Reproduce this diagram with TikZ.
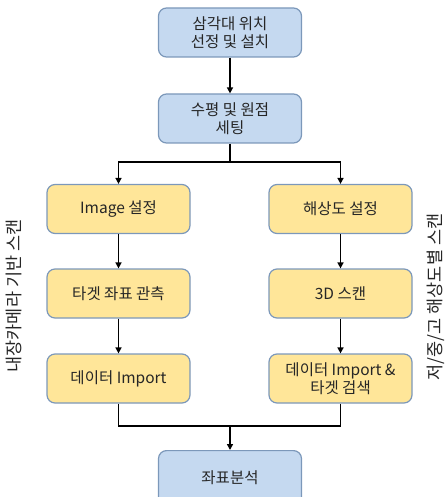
\documentclass[tikz,border=0pt]{standalone}
\usepackage{fontspec}
\setmainfont{Noto Sans CJK KR}
\usetikzlibrary{arrows.meta}
\definecolor{bluefill}{HTML}{C5D9F0}
\definecolor{yellowfill}{HTML}{FFE699}
\definecolor{boxborder}{HTML}{7C98BA}
\begin{document}
\begin{tikzpicture}[x=1pt,y=-1pt,
  box/.style={draw=boxborder,line width=1.2pt,rounded corners=8pt,minimum width=143pt,minimum height=49pt,align=center,font=\fontsize{15.5}{18}\selectfont,text=black!85},
  bluebox/.style={box,fill=bluefill},
  yellowbox/.style={box,fill=yellowfill},
  conn/.style={line width=1.6pt,black},
  arr/.style={conn,-{Triangle[length=6pt,width=6pt]}},
  side/.style={rotate=90,font=\fontsize{17.5}{20}\selectfont,text=black!85}]
\useasboundingbox (0,0) rectangle (446,497);
\clip (0,0) rectangle (446,497);
\node[bluebox] (top) at (230,32.5) {삼각대 위치\\선정 및 설치};
\node[bluebox] (set) at (230,118.5) {수평 및 원점\\세팅};
\node[yellowbox] (l1) at (118.5,209) {Image 설정};
\node[yellowbox] (l2) at (118.5,293.5) {타겟 좌표 관측};
\node[yellowbox] (l3) at (118.5,378.5) {데이터 Import};
\node[yellowbox] (r1) at (340.5,209) {해상도 설정};
\node[yellowbox] (r2) at (340.5,293.5) {3D 스캔};
\node[yellowbox] (r3) at (340.5,378.5) {데이터 Import \&\\타겟 검색};
\node[bluebox,minimum height=60pt,anchor=north] (ana) at (230,450) {\raisebox{8pt}{좌표분석}};
\node[side] (lside) at (14,296) {내장카메라 기반 스캔};
\node[side] (rside) at (436,297) {저/중/고 해상도별 스캔};
\coordinate (split) at (230,162);
\coordinate (merge) at (230,426);
\draw[arr] (top) -- (set);
\draw[conn] (set) -- (split);
\draw[arr] (split) -| (l1);
\draw[arr] (split) -| (r1);
\draw[arr] (l1) -- (l2);
\draw[arr] (l2) -- (l3);
\draw[arr] (r1) -- (r2);
\draw[arr] (r2) -- (r3);
\draw[conn] (l3.south) |- (merge);
\draw[conn] (r3.south) |- (merge);
\draw[arr] (merge) -- (ana);
\end{tikzpicture}
\end{document}
